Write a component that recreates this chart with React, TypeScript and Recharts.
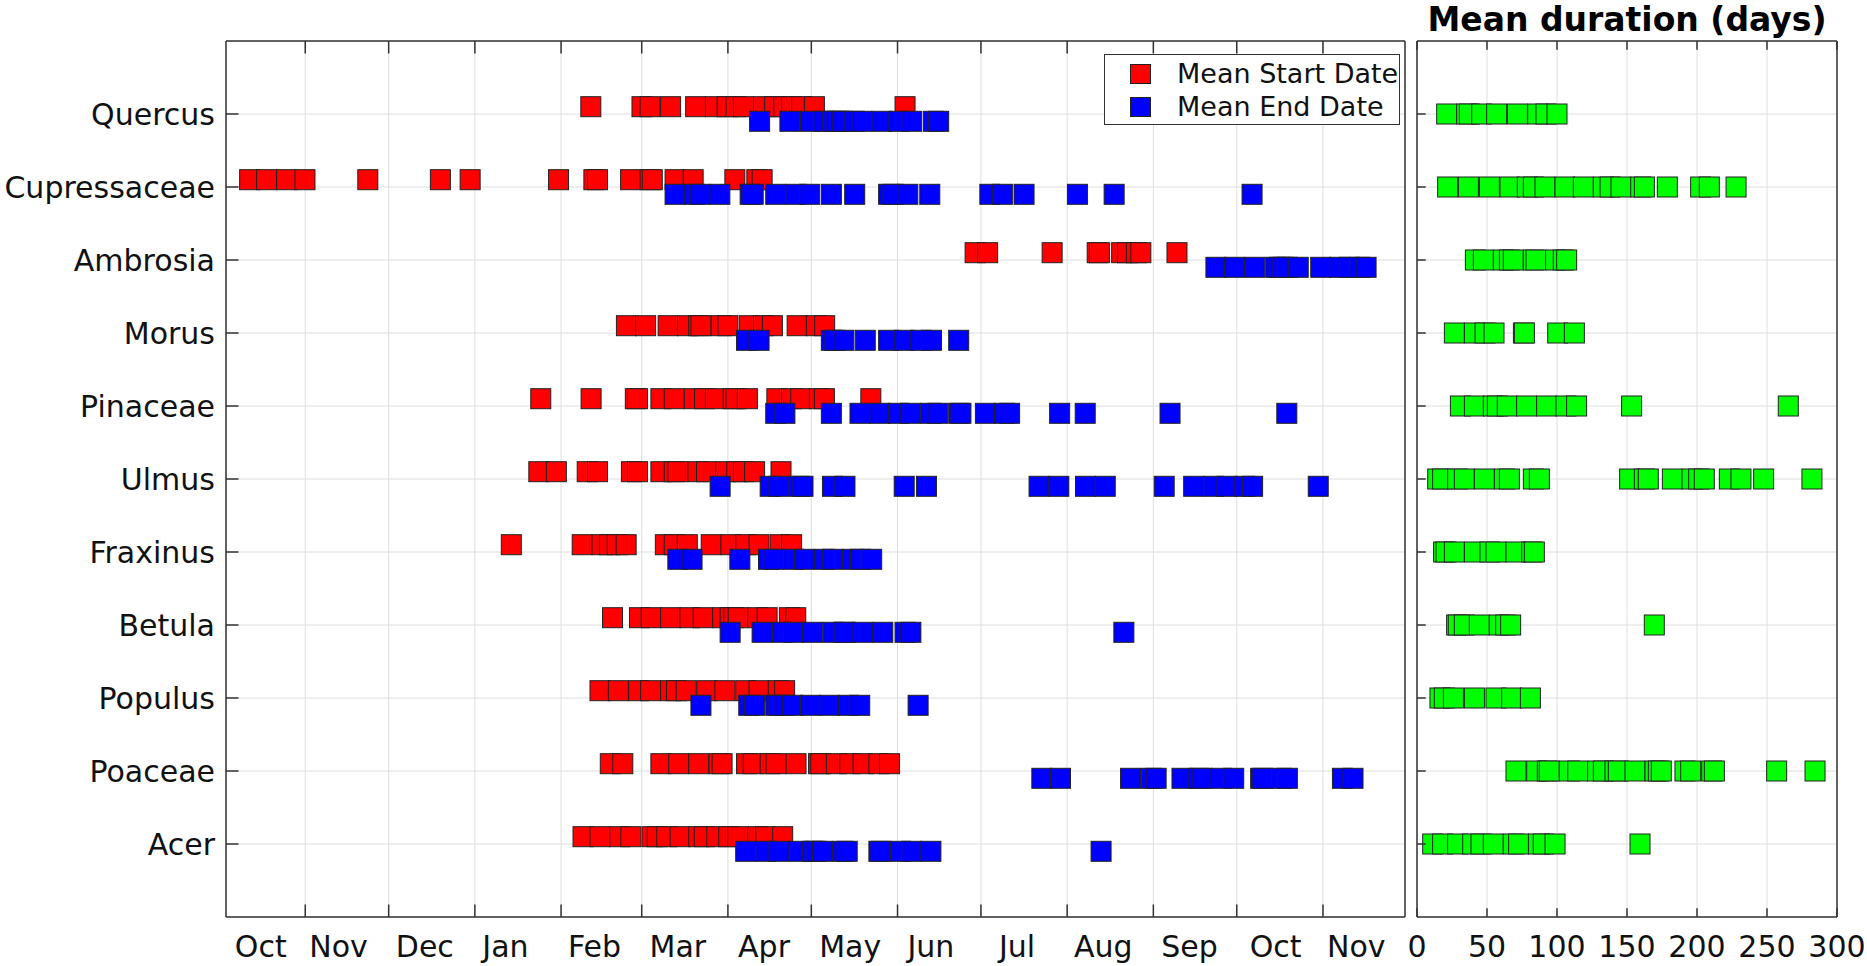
import { ScatterChart, Scatter, XAxis, YAxis, CartesianGrid, Legend } from 'recharts';

// species, bottom (y = 1) to top (y = 11)
const SPECIES = [
  'Acer', 'Poaceae', 'Populus', 'Betula', 'Fraxinus', 'Ulmus',
  'Pinaceae', 'Morus', 'Ambrosia', 'Cupressaceae', 'Quercus'
];

// mean start dates per site, days since 1 Oct
const START_DAYS = [
  [130.9, 137.0, 144.1, 148.1, 155.7, 157.6, 161.0, 165.8, 172.5, 174.5, 179.0, 183.3, 186.5, 193.7, 196.6, 202.7],
  [140.7, 145.2, 158.9, 165.3, 172.5, 179.8, 180.9, 189.7, 192.1, 198.2, 200.3, 207.5, 215.6, 216.4, 222.0, 226.8, 231.6, 237.3, 241.1],
  [137.0, 143.6, 150.9, 155.2, 162.4, 164.5, 168.0, 175.4, 181.9, 189.4, 194.2, 201.1, 203.4],
  [141.5, 151.2, 155.4, 162.4, 169.3, 174.1, 181.1, 183.8, 185.1, 186.7, 193.7, 197.1, 205.1, 207.4],
  [105.1, 130.6, 137.7, 140.4, 143.2, 146.4, 160.5, 163.7, 168.4, 177.0, 184.1, 189.4, 194.2, 201.8, 205.9],
  [115.0, 121.3, 132.4, 136.1, 148.3, 150.5, 158.9, 163.7, 165.0, 172.2, 175.3, 182.2, 186.2, 188.6, 192.6, 202.1],
  [115.7, 133.8, 149.7, 150.5, 158.9, 163.7, 170.9, 174.6, 178.5, 184.9, 185.9, 190.0, 200.6, 205.9, 209.2, 215.9, 217.7, 234.4],
  [146.5, 153.4, 161.5, 168.5, 172.5, 173.3, 180.6, 183.0, 190.7, 195.8, 199.0, 207.9, 214.8, 217.8],
  [271.9, 276.4, 299.6, 315.8, 316.6, 324.6, 326.7, 329.9, 331.5, 344.5],
  [11.0, 17.1, 24.3, 30.9, 53.5, 79.6, 90.3, 122.1, 134.8, 136.1, 148.0, 155.0, 155.8, 164.0, 170.5, 185.5, 193.4, 195.3],
  [133.7, 152.1, 155.0, 162.4, 171.4, 178.5, 182.7, 185.9, 188.6, 195.8, 199.8, 203.1, 205.9, 209.5, 214.1, 246.7]
];

// mean end dates per site, days since 1 Oct
const END_DAYS = [
  [189.4, 196.6, 201.4, 208.7, 213.5, 214.6, 217.0, 224.3, 225.9, 237.3, 238.1, 245.1, 249.1, 256.0, 317.2],
  [295.9, 302.6, 327.8, 335.2, 337.0, 346.3, 352.4, 353.5, 360.4, 364.9, 374.6, 375.4, 382.1, 384.2, 404.0, 407.8],
  [173.3, 190.5, 192.6, 200.2, 201.4, 203.1, 206.3, 212.7, 219.6, 226.3, 230.4, 251.4],
  [183.8, 195.3, 202.6, 206.6, 213.5, 221.0, 224.7, 225.2, 231.6, 238.7, 246.7, 248.8, 325.4],
  [165.0, 170.1, 187.3, 197.6, 199.5, 206.6, 210.6, 217.8, 220.7, 227.9, 230.7, 234.7],
  [180.2, 198.2, 201.4, 208.7, 210.0, 220.6, 225.1, 246.4, 254.4, 294.9, 302.0, 311.6, 318.7, 339.9, 350.5, 357.7, 362.5, 368.9, 371.7, 395.3],
  [200.2, 203.5, 220.2, 230.5, 237.6, 244.3, 248.8, 256.0, 258.5, 266.0, 266.8, 275.6, 282.5, 284.3, 302.3, 311.5, 342.0, 384.0],
  [189.7, 194.2, 220.2, 221.5, 224.7, 232.4, 240.8, 246.4, 252.4, 256.2, 266.0],
  [358.5, 365.2, 372.5, 380.0, 381.3, 382.6, 384.2, 388.1, 396.2, 403.0, 406.5, 410.2, 412.5],
  [164.0, 170.9, 173.0, 180.1, 191.0, 192.1, 200.2, 207.4, 212.4, 220.2, 228.6, 240.8, 242.4, 247.7, 255.6, 277.2, 281.7, 289.5, 308.7, 321.9, 371.5],
  [194.4, 205.3, 212.7, 217.5, 220.7, 221.8, 223.1, 224.3, 228.4, 231.2, 238.4, 244.5, 249.1, 256.9, 258.8]
];

// mean duration per site (days)
const DURATION_DAYS = [
  [11.2, 18.3, 29.0, 39.8, 45.7, 54.5, 68.8, 72.6, 86.7, 90.2, 98.6, 159.3],
  [70.7, 85.5, 93.1, 94.5, 108.8, 114.8, 129.0, 133.1, 141.4, 143.8, 155.7, 170.0, 172.4, 174.5, 191.4, 195.5, 210.5, 212.4, 256.9, 284.3],
  [16.4, 19.5, 26.0, 41.0, 56.4, 67.6, 81.0],
  [28.3, 29.5, 33.8, 44.5, 58.8, 63.3, 66.9, 169.5],
  [19.0, 20.7, 26.7, 41.0, 52.1, 56.4, 70.7, 81.9, 83.8],
  [14.8, 18.3, 29.0, 33.8, 48.1, 62.4, 66.0, 83.1, 87.4, 151.9, 162.4, 165.2, 182.4, 196.4, 201.2, 205.2, 223.1, 231.4, 247.6, 282.1],
  [31.0, 41.0, 54.5, 57.4, 64.5, 78.3, 92.6, 106.4, 114.0, 153.3, 265.2],
  [26.7, 41.0, 48.6, 55.0, 76.0, 76.7, 100.5, 112.4],
  [41.7, 47.4, 61.7, 66.0, 68.8, 83.1, 85.0, 99.0, 104.5, 106.9],
  [21.9, 36.7, 51.7, 66.4, 78.8, 83.1, 91.4, 105.7, 118.8, 133.1, 137.9, 145.7, 159.8, 162.4, 178.8, 202.6, 208.8, 227.9],
  [21.2, 35.5, 37.4, 46.2, 56.9, 71.7, 86.2, 92.1, 100.0]
];

const MONTH_STARTS = [0, 31, 61, 92, 123, 152, 183, 213, 244, 274, 305, 336, 366, 397];
const MONTH_LABELS = ['Oct', 'Nov', 'Dec', 'Jan', 'Feb', 'Mar', 'Apr', 'May', 'Jun', 'Jul', 'Aug', 'Sep', 'Oct', 'Nov'];
const LABEL_DAYS = [15, 43, 74, 103, 135, 165, 196, 227, 256, 287, 318, 349, 380, 409];
const DATE_DOMAIN = [2.5, 426.5];
const DURATION_TICKS = [0, 50, 100, 150, 200, 250, 300];
const Y_TICKS = SPECIES.map((_, i) => i + 1);

const FONT = '"DejaVu Sans", Verdana, sans-serif';
const AXIS = '#333333';
const GRID = '#dedede';

const toPoints = (rows: number[][], shift: number) =>
  rows.flatMap((vals, i) => vals.map((v) => ({ x: v, y: i + 1 + shift })));

const startPoints = toPoints(START_DAYS, 0.1);
const endPoints = toPoints(END_DAYS, -0.1);
const durationPoints = toPoints(DURATION_DAYS, 0);

const monthTicks = MONTH_STARTS.filter((d) => d >= DATE_DOMAIN[0] && d <= DATE_DOMAIN[1]);
const bottomTicks = [...monthTicks, ...LABEL_DAYS].sort((a, b) => a - b);

const square = (fill: string) => (p: any) => (
  <rect x={p.cx - 10} y={p.cy - 10} width={20} height={20} fill={fill} stroke="#222" strokeWidth={1} />
);

// ticks point inward, like the MATLAB box
const MonthTick = (props: any) => {
  const { x, y, payload } = props;
  const li = LABEL_DAYS.indexOf(payload.value);
  if (li >= 0) {
    return (
      <text x={x} y={y + 40} textAnchor="middle" fontSize={30} fontFamily={FONT} fill="#111">
        {MONTH_LABELS[li]}
      </text>
    );
  }
  return <line x1={x} x2={x} y1={y} y2={y - 12.5} stroke={AXIS} strokeWidth={1.5} />;
};

const TopTick = (props: any) => {
  const { x, y, len } = props;
  return <line x1={x} x2={x} y1={y} y2={y + len} stroke={AXIS} strokeWidth={1.5} />;
};

const RightTick = (props: any) => {
  const { x, y, len } = props;
  return <line x1={x} x2={x - len} y1={y} y2={y} stroke={AXIS} strokeWidth={1.5} />;
};

const SpeciesTick = (props: any) => {
  const { x, y, payload } = props;
  return (
    <g>
      <line x1={x} x2={x + 12.5} y1={y} y2={y} stroke={AXIS} strokeWidth={1.5} />
      <text x={x - 11} y={y} dy="0.36em" textAnchor="end" fontSize={30} fontFamily={FONT} fill="#111">
        {SPECIES[payload.value - 1]}
      </text>
    </g>
  );
};

const PlainYTick = (props: any) => {
  const { x, y } = props;
  return <line x1={x} x2={x + 8.7} y1={y} y2={y} stroke={AXIS} strokeWidth={1.5} />;
};

const DurationTick = (props: any) => {
  const { x, y, payload } = props;
  return (
    <g>
      <line x1={x} x2={x} y1={y} y2={y - 8.7} stroke={AXIS} strokeWidth={1.5} />
      <text x={x} y={y + 40} textAnchor="middle" fontSize={30} fontFamily={FONT} fill="#111">
        {payload.value}
      </text>
    </g>
  );
};

const LEGEND_ITEMS = [
  { name: 'Mean Start Date', color: '#ff0000' },
  { name: 'Mean End Date', color: '#0000ff' }
];

const LegendBox = () => (
  <div
    style={{
      width: 296, height: 71, boxSizing: 'border-box', border: `1.5px solid ${AXIS}`,
      background: '#fff', paddingTop: 2, fontFamily: FONT, fontSize: 27, color: '#111'
    }}
  >
    {LEGEND_ITEMS.map((item) => (
      <div key={item.name} style={{ display: 'flex', alignItems: 'center', height: 33 }}>
        <span
          style={{
            display: 'inline-block', width: 21, height: 20, marginLeft: 25, marginRight: 26,
            boxSizing: 'border-box', background: item.color, border: '1px solid #222'
          }}
        />
        <span style={{ whiteSpace: 'nowrap' }}>{item.name}</span>
      </div>
    ))}
  </div>
);

const App = () => {
  return (
    <div style={{ position: 'absolute', left: 0, top: 0, width: 1867, height: 966, background: '#fff' }}>
      <div style={{ position: 'absolute', left: 0, top: 0 }}>
        <ScatterChart width={1410} height={966} margin={{ top: 40, right: 4, bottom: 0, left: 0 }}>
          <CartesianGrid xAxisId="top" stroke={GRID} strokeWidth={1} />
          <XAxis
            dataKey="x" type="number" domain={DATE_DOMAIN} allowDataOverflow ticks={bottomTicks}
            interval={0} height={49} tickSize={0} tickMargin={0} tickLine={false}
            axisLine={{ stroke: AXIS, strokeWidth: 1.5 }} tick={<MonthTick />}
          />
          <XAxis
            xAxisId="top" orientation="top" dataKey="x" type="number" domain={DATE_DOMAIN}
            allowDataOverflow ticks={monthTicks} interval={0} height={1} tickSize={0} tickMargin={0}
            tickLine={false} axisLine={{ stroke: AXIS, strokeWidth: 1.5 }} tick={<TopTick len={12.5} />}
          />
          <YAxis
            dataKey="y" type="number" domain={[0, 12]} ticks={Y_TICKS} interval={0} width={226}
            tickSize={0} tickMargin={0} tickLine={false} axisLine={{ stroke: AXIS, strokeWidth: 1.5 }}
            tick={<SpeciesTick />}
          />
          <YAxis
            yAxisId="right" orientation="right" dataKey="y" type="number" domain={[0, 12]} ticks={Y_TICKS}
            interval={0} width={1} tickSize={0} tickMargin={0} tickLine={false}
            axisLine={{ stroke: AXIS, strokeWidth: 1.5 }} tick={<RightTick len={12.5} />}
          />
          <Scatter name="Mean Start Date" data={startPoints} fill="#ff0000" shape={square('#ff0000')} isAnimationActive={false} />
          <Scatter name="Mean End Date" data={endPoints} fill="#0000ff" shape={square('#0000ff')} isAnimationActive={false} />
          <Legend
            content={<LegendBox />} layout="vertical" align="center" verticalAlign="middle"
            wrapperStyle={{ left: 1104, top: 54, width: 296, height: 71 }}
          />
        </ScatterChart>
      </div>
      <div style={{ position: 'absolute', left: 1400, top: 0 }}>
        <ScatterChart width={467} height={966} margin={{ top: 40, right: 29, bottom: 0, left: 0 }}>
          <CartesianGrid stroke={GRID} strokeWidth={1} />
          <XAxis
            dataKey="x" type="number" domain={[0, 300]} allowDataOverflow ticks={DURATION_TICKS}
            interval={0} height={49} tickSize={0} tickMargin={0} tickLine={false}
            axisLine={{ stroke: AXIS, strokeWidth: 1.5 }} tick={<DurationTick />}
          />
          <XAxis
            xAxisId="top" orientation="top" dataKey="x" type="number" domain={[0, 300]}
            allowDataOverflow ticks={DURATION_TICKS} interval={0} height={1} tickSize={0} tickMargin={0}
            tickLine={false} axisLine={{ stroke: AXIS, strokeWidth: 1.5 }} tick={<TopTick len={8.7} />}
          />
          <YAxis
            dataKey="y" type="number" domain={[0, 12]} ticks={Y_TICKS} interval={0} width={17}
            tickSize={0} tickMargin={0} tickLine={false} axisLine={{ stroke: AXIS, strokeWidth: 1.5 }}
            tick={<PlainYTick />}
          />
          <YAxis
            yAxisId="right" orientation="right" dataKey="y" type="number" domain={[0, 12]} ticks={Y_TICKS}
            interval={0} width={1} tickSize={0} tickMargin={0} tickLine={false}
            axisLine={{ stroke: AXIS, strokeWidth: 1.5 }} tick={<RightTick len={8.7} />}
          />
          <Scatter name="Mean duration" data={durationPoints} fill="#00ff00" shape={square('#00ff00')} isAnimationActive={false} />
        </ScatterChart>
      </div>
      <svg width={1867} height={40} style={{ position: 'absolute', left: 0, top: 0 }}>
        <text x={1627} y={31} textAnchor="middle" fontSize={33} fontWeight={700} fontFamily={FONT} fill="#000">
          Mean duration (days)
        </text>
      </svg>
    </div>
  );
};

export default App;
